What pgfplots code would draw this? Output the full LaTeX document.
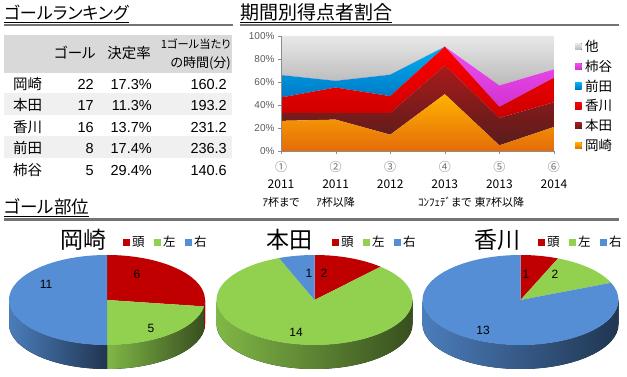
\documentclass[border=0pt]{standalone}
\usepackage{pgfplots}
\pgfplotsset{compat=1.18}
\usepackage{pgfplotstable}
\usepackage{fontspec}
\setmainfont{Liberation Sans}
\newfontfamily\jp[RawFeature=+palt]{Noto Sans CJK JP}
\usetikzlibrary{calc}
\definecolor{headc}{HTML}{C00000}
\definecolor{leftc}{HTML}{92D050}
\definecolor{rightc}{HTML}{558ED5}
\newcommand\fs[1]{\fontsize{#1}{#1}\selectfont}

\pgfplotstableread{
x oka hon kag mae kak oth
1 26.2 6.9 13.4 19.5 0 34.0
2 27.3 5.7 22.2 5.8 0 39.0
3 14.2 18.8 14.7 18.6 0 33.7
4 49.4 25.0 16.3 0 0 9.3
5 4.9 23.9 9.6 0 18.6 43.0
6 20.9 21.5 21.3 0 7.3 29.0
}\shares

\def\prx{98}\def\pry{45}\def\pdp{24}
\newcommand\pieside[5]{%
  \pgfmathsetmacro\lo{max(#4,-180)}%
  \pgfmathsetmacro\hi{min(#3,0)}%
  \ifdim\lo pt<\hi pt
    \fill[left color=#5!88!black, right color=#5!38!black]
      ($(axis cs:#1,#2)+(\lo:\prx pt and \pry pt)$)
      arc[start angle=\lo, end angle=\hi, x radius=\prx pt, y radius=\pry pt]
      -- ++(0pt,-\pdp pt)
      arc[start angle=\hi, end angle=\lo, x radius=\prx pt, y radius=\pry pt] -- cycle;
  \fi}
\newcommand\pietop[5]{%
  \fill[#5] (axis cs:#1,#2) -- ($(axis cs:#1,#2)+(#3:\prx pt and \pry pt)$)
    arc[start angle=#3, end angle=#4, x radius=\prx pt, y radius=\pry pt] -- cycle;}
\newcommand\threedpie[5]{%
  \pgfplotsextra{%
    \pgfmathsetmacro\T{#3+#4+#5}%
    \pgfmathsetmacro\A{90-360*#3/\T}%
    \pgfmathsetmacro\B{\A-360*#4/\T}%
    \pieside{#1}{#2}{90}{\A}{headc}%
    \pieside{#1}{#2}{\A}{\B}{leftc}%
    \pieside{#1}{#2}{\B}{-270}{rightc}%
    \pietop{#1}{#2}{90}{\A}{headc}%
    \pietop{#1}{#2}{\A}{\B}{leftc}%
    \pietop{#1}{#2}{\B}{-270}{rightc}%
  }}

\begin{document}
\begin{tikzpicture}
\useasboundingbox (0pt,0pt) rectangle (627pt,377pt);
\begin{scope}[x=1pt,y=1pt]
% section titles
\node[anchor=base west, inner sep=0pt, font=\jp\fs{17}] (t1) at (4,357) {ゴールランキング};
\draw[line width=0.8pt] ([yshift=-2.3pt]t1.base west) -- ([yshift=-2.3pt]t1.base east);
\draw[line width=2.6pt, black!55] (4,352) -- (233,352);
\node[anchor=base west, inner sep=0pt, font=\jp\fs{19}] (t2) at (240,357) {期間別得点者割合};
\draw[line width=0.8pt] ([yshift=-2.3pt]t2.base west) -- ([yshift=-2.3pt]t2.base east);
\draw[line width=2.6pt, black!55] (240,352) -- (619,352);
\node[anchor=base west, inner sep=0pt, font=\jp\fs{17.5}] (t3) at (4,163) {ゴール部位};
\draw[line width=0.8pt] ([yshift=-2.3pt]t3.base west) -- ([yshift=-2.3pt]t3.base east);
\draw[line width=2.6pt, black!55] (4,157.5) -- (619,157.5);
% table
\fill[black!15] (4,304) rectangle (232,342);
\fill[black!6] (4,262) rectangle (232,284);
\fill[black!6] (4,219) rectangle (232,241);
\node[inner sep=0pt, font=\jp\fs{14.5}] at (75,324) {ゴール};
\node[inner sep=0pt, font=\jp\fs{14.5}] at (129,324) {決定率};
\node[anchor=east, inner sep=0pt, font=\jp\fs{11.3}] at (231,333) {1ゴール当たり};
\node[anchor=east, inner sep=0pt, font=\jp\fs{13}] at (231,314) {の時間(分)};
\foreach \n/\g/\r/\t [count=\i from 0] in {岡崎/22/17.3/160.2,本田/17/11.3/193.2,香川/16/13.7/231.2,前田/8/17.4/236.3,柿谷/5/29.4/140.6}{
  \pgfmathsetmacro\yb{287.7-21.5*\i}
  \node[anchor=base west, inner sep=0pt, font=\jp\fs{14.5}] at (13,\yb) {\n};
  \node[anchor=base east, inner sep=0pt, font=\fs{14.5}] at (94,\yb) {\g};
  \node[anchor=base east, inner sep=0pt, font=\fs{14.5}] at (152,\yb) {\r\%};
  \node[anchor=base east, inner sep=0pt, font=\fs{14.5}] at (227,\yb) {\t};
}
% pie titles and legends
\foreach \cx/\nm/\L in {83.5/岡崎/123,289/本田/332,497.5/香川/538}{
  \node[anchor=base, inner sep=0pt, font=\jp\fs{23}] at (\cx,128.5) {\nm};
  \fill[headc] (\L,131.2) rectangle +(7,7);
  \node[anchor=base west, inner sep=0pt, font=\jp\fs{12.5}] at (\L+9,130) {頭};
  \fill[leftc] (\L+31,131.2) rectangle +(7,7);
  \node[anchor=base west, inner sep=0pt, font=\jp\fs{12.5}] at (\L+40,130) {左};
  \fill[rightc] (\L+62,131.2) rectangle +(7,7);
  \node[anchor=base west, inner sep=0pt, font=\jp\fs{12.5}] at (\L+71,130) {右};
}
\end{scope}

% stacked area chart
\begin{axis}[at={(281pt,226pt)}, anchor=south west, scale only axis,
  width=273pt, height=115pt,
  xmin=1, xmax=6, ymin=0, ymax=100, stack plots=y, area style,
  axis x line*=bottom, axis y line*=left, axis line style={black!45},
  xtick={1,...,6}, ytick={0,20,...,100},
  tick style={black!45}, tick align=outside, major tick length=3pt,
  yticklabel={\pgfmathprintnumber{\tick}\%},
  /pgf/number format/assume math mode=true,
  yticklabel style={font=\fs{10}, text=black!65},
  xticklabels={{{\color{black!55}①}\\2011\\{\fs{11}ｱ杯まで}},
               {{\color{black!55}②}\\2011\\{\fs{11}ｱ杯以降}},
               {{\color{black!55}③}\\2012},
               {{\color{black!55}④}\\2013\\{\fs{11}ｺﾝﾌｪﾃﾞまで}},
               {{\color{black!55}⑤}\\2013\\{\fs{11}東ｱ杯以降}},
               {{\color{black!55}⑥}\\2014}},
  xticklabel style={align=center, font=\jp\fontsize{12}{17.5}\selectfont, yshift=-3.5pt},
  reverse legend,
  legend style={at={(axis description cs:1.077,0.975)}, anchor=north west, draw=none, fill=none,
    inner sep=0pt, font=\jp\fs{13.5}, row sep=5pt, nodes={inner sep=1pt}},
  legend cell align=left,
  legend image code/.code={\fill[#1] (0pt,-3.2pt) rectangle (6.5pt,3.2pt); \path (9pt,0pt);},
]
\addplot[draw=none, top color=orange!60!yellow, bottom color={rgb,255:red,228;green,108;blue,10}] table[x=x,y=oka]{\shares} \closedcycle;
\addplot[draw=none, top color={rgb,255:red,170;green,26;blue,26}, bottom color={rgb,255:red,88;green,28;blue,28}] table[x=x,y=hon]{\shares} \closedcycle;
\addplot[draw=none, top color={rgb,255:red,255;green,0;blue,0}, bottom color={rgb,255:red,205;green,0;blue,0}] table[x=x,y=kag]{\shares} \closedcycle;
\addplot[draw=none, top color={rgb,255:red,0;green,176;blue,240}, bottom color={rgb,255:red,0;green,112;blue,192}] table[x=x,y=mae]{\shares} \closedcycle;
\addplot[draw=none, top color={rgb,255:red,240;green,80;blue,240}, bottom color={rgb,255:red,210;green,50;blue,210}] table[x=x,y=kak]{\shares} \closedcycle;
\addplot[draw=none, top color={rgb,255:red,232;green,232;blue,232}, bottom color={rgb,255:red,185;green,185;blue,185}] table[x=x,y=oth]{\shares} \closedcycle;
\legend{岡崎,本田,香川,前田,柿谷,他}
\end{axis}

% 3D pies
\begin{axis}[at={(0pt,0pt)}, anchor=south west, x=1pt, y=1pt,
  xmin=0, xmax=627, ymin=0, ymax=377, hide axis, clip=false]
\threedpie{107}{77}{6}{5}{11}
\threedpie{314.5}{77}{2}{14}{1}
\threedpie{520.5}{77}{1}{2}{13}
\node[font=\fs{12}] at (axis cs:137,103) {6};
\node[font=\fs{12}] at (axis cs:151,49) {5};
\node[font=\fs{12}] at (axis cs:46,93) {11};
\node[font=\fs{12}] at (axis cs:309,104) {1};
\node[font=\fs{12}] at (axis cs:324,104) {2};
\node[font=\fs{12}] at (axis cs:296,45) {14};
\node[font=\fs{12}] at (axis cs:526,103) {1};
\node[font=\fs{12}] at (axis cs:555,103) {2};
\node[font=\fs{12}] at (axis cs:483,47) {13};
\end{axis}
\end{tikzpicture}
\end{document}
